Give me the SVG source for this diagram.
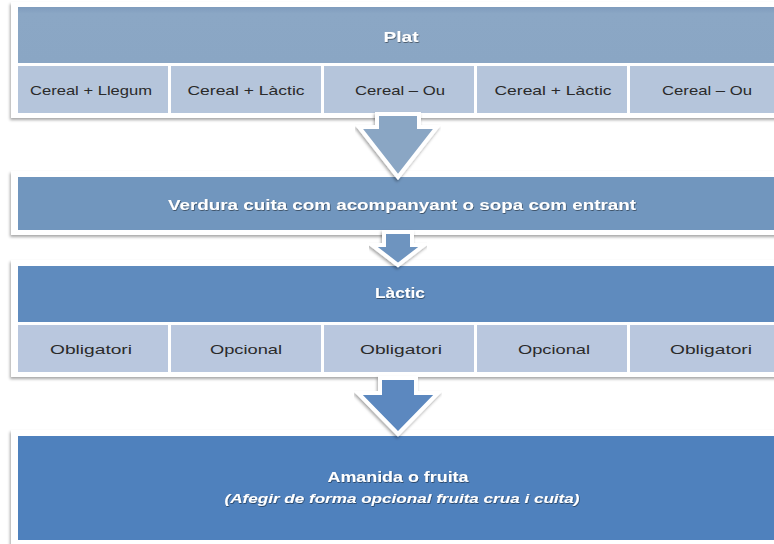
<svg xmlns="http://www.w3.org/2000/svg" width="774" height="544" viewBox="0 0 774 544">
<defs>
<filter id="sh" x="-5%" y="-20%" width="110%" height="140%">
<feDropShadow dx="-1" dy="2" stdDeviation="1.5" flood-color="#000" flood-opacity="0.35"/>
</filter>
<filter id="ts" x="-5%" y="-30%" width="110%" height="160%">
<feDropShadow dx="0.6" dy="0.8" stdDeviation="0.6" flood-color="#000" flood-opacity="0.55"/>
</filter>
<linearGradient id="g1" x1="0" y1="0" x2="0" y2="1">
<stop offset="0" stop-color="#7f9cbd"/><stop offset="0.12" stop-color="#8ba7c5"/><stop offset="1" stop-color="#8aa6c4"/>
</linearGradient>
</defs>
<style>
.frame{fill:#fff;filter:url(#sh)}
.wt{font-family:"Liberation Sans","DejaVu Sans",sans-serif;fill:#fff;font-weight:bold;text-anchor:middle;filter:url(#ts)}
.ct{font-family:"Liberation Sans","DejaVu Sans",sans-serif;fill:#2a2a2a;font-size:13px;text-anchor:middle}
.c1{fill:#b5c5db}
.c3{fill:#b9c7de}
.arr{stroke:#fff;stroke-width:4;stroke-linejoin:miter;filter:url(#sh)}
</style>
<rect width="774" height="544" fill="#fff"/>

<g id="box-plat">
<rect class="frame" x="11" y="2" width="790" height="116"/>
<rect x="18" y="7" width="780" height="56" fill="url(#g1)"/>
<text class="wt" x="401" y="42" font-size="14" textLength="35" lengthAdjust="spacingAndGlyphs">Plat</text>
<rect class="c1" x="18" y="66" width="150" height="47"/>
<rect class="c1" x="171" y="66" width="150" height="47"/>
<rect class="c1" x="324" y="66" width="150" height="47"/>
<rect class="c1" x="477" y="66" width="150" height="47"/>
<rect class="c1" x="630" y="66" width="150" height="47"/>
<text class="ct" x="91" y="95" textLength="122" lengthAdjust="spacingAndGlyphs">Cereal + Llegum</text>
<text class="ct" x="246" y="95" textLength="117" lengthAdjust="spacingAndGlyphs">Cereal + Làctic</text>
<text class="ct" x="400" y="95" textLength="90" lengthAdjust="spacingAndGlyphs">Cereal – Ou</text>
<text class="ct" x="553" y="95" textLength="117" lengthAdjust="spacingAndGlyphs">Cereal + Làctic</text>
<text class="ct" x="707" y="95" textLength="90" lengthAdjust="spacingAndGlyphs">Cereal – Ou</text>
</g>

<g id="box-verdura">
<rect class="frame" x="11" y="171" width="790" height="64"/>
<rect x="18" y="177" width="780" height="53" fill="#7196be"/>
<text class="wt" x="402" y="210" font-size="14" textLength="468" lengthAdjust="spacingAndGlyphs">Verdura cuita com acompanyant o sopa com entrant</text>
</g>

<g id="box-lactic">
<rect class="frame" x="11" y="260" width="790" height="117"/>
<rect x="18" y="266" width="780" height="56" fill="#5f8bbe"/>
<text class="wt" x="400" y="298" font-size="14" textLength="50" lengthAdjust="spacingAndGlyphs">Làctic</text>
<rect class="c3" x="18" y="325" width="150" height="47"/>
<rect class="c3" x="171" y="325" width="150" height="47"/>
<rect class="c3" x="324" y="325" width="150" height="47"/>
<rect class="c3" x="477" y="325" width="150" height="47"/>
<rect class="c3" x="630" y="325" width="150" height="47"/>
<text class="ct" x="91" y="354" textLength="82" lengthAdjust="spacingAndGlyphs">Obligatori</text>
<text class="ct" x="246" y="354" textLength="72" lengthAdjust="spacingAndGlyphs">Opcional</text>
<text class="ct" x="401" y="354" textLength="82" lengthAdjust="spacingAndGlyphs">Obligatori</text>
<text class="ct" x="554" y="354" textLength="72" lengthAdjust="spacingAndGlyphs">Opcional</text>
<text class="ct" x="711" y="354" textLength="82" lengthAdjust="spacingAndGlyphs">Obligatori</text>
</g>

<g id="box-amanida">
<rect class="frame" x="11" y="430" width="790" height="120"/>
<rect x="18" y="436" width="780" height="104" fill="#4f81bd"/>
<text class="wt" x="398" y="482" font-size="14" textLength="141" lengthAdjust="spacingAndGlyphs">Amanida o fruita</text>
<text class="wt" x="402" y="503" font-size="13" font-style="italic" textLength="355" lengthAdjust="spacingAndGlyphs">(Afegir de forma opcional fruita crua i cuita)</text>
</g>

<g id="connectors">
<polygon class="arr" fill="#8aa6c4" points="377,114 419,114 419,127 437,127 398,177 359,127 377,127"/>
<polygon class="arr" fill="#6e94bf" points="384,232 412,232 412,245 424,245 398,265 372,245 384,245"/>
<polygon class="arr" fill="#5b88bf" points="380,378 416,378 416,393 438,393 398,434 358,393 380,393"/>
</g>
</svg>
